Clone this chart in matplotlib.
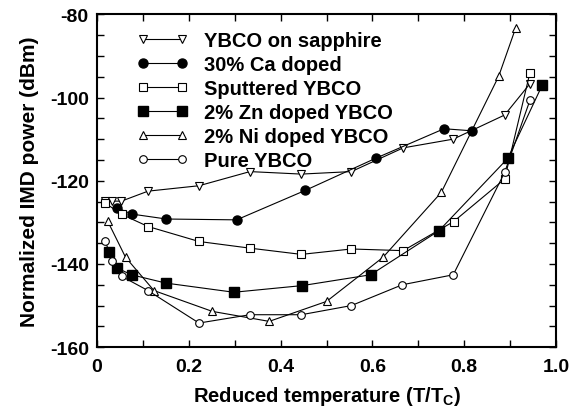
import matplotlib
matplotlib.use("Agg")
from matplotlib import pyplot as plt
from matplotlib.ticker import MultipleLocator

plt.rcParams['font.family'] = ['Liberation Sans', 'DejaVu Sans']
plt.rcParams['font.weight'] = 'bold'
plt.rcParams['axes.unicode_minus'] = False

# YBCO on sapphire
sapphire_x = [0.018, 0.033, 0.053, 0.111, 0.222, 0.333, 0.445, 0.554, 0.667, 0.776, 0.888, 0.943]
sapphire_y = [-124.9, -124.9, -124.9, -122.5, -121.2, -117.8, -118.4, -117.8, -112.1, -110.0, -104.2, -96.7]

# 30% Ca doped
ca_x = [0.044, 0.075, 0.151, 0.304, 0.454, 0.607, 0.756, 0.817]
ca_y = [-126.5, -128.0, -129.2, -129.4, -122.3, -114.6, -107.5, -108.0]

# Sputtered YBCO
sput_x = [0.018, 0.054, 0.111, 0.222, 0.333, 0.445, 0.554, 0.667, 0.777, 0.888, 0.943]
sput_y = [-125.4, -128.1, -131.0, -134.6, -136.2, -137.7, -136.4, -136.8, -129.8, -119.6, -94.1]

# 2% Zn doped YBCO
zn_x = [0.026, 0.044, 0.075, 0.150, 0.298, 0.447, 0.596, 0.745, 0.895, 0.970]
zn_y = [-137.2, -141.0, -142.6, -144.6, -146.8, -145.2, -142.6, -132.0, -114.6, -97.0]

# 2% Ni doped YBCO
ni_x = [0.023, 0.062, 0.124, 0.251, 0.375, 0.500, 0.623, 0.750, 0.875, 0.912]
ni_y = [-129.7, -138.4, -146.4, -151.4, -153.8, -149.0, -138.4, -122.8, -94.9, -83.3]

# Pure YBCO
pure_x = [0.018, 0.033, 0.054, 0.111, 0.222, 0.333, 0.445, 0.554, 0.665, 0.776, 0.888, 0.943]
pure_y = [-134.6, -139.2, -143.0, -146.4, -154.2, -152.2, -152.2, -150.0, -145.0, -142.6, -118.0, -100.7]

xticks = [0, 0.2, 0.4, 0.6, 0.8, 1.0]
xtick_labels = ['0', '0.2', '0.4', '0.6', '0.8', '1.0']

fig = plt.figure(figsize=(5.78, 4.14), dpi=100)
ax = fig.add_axes([0.168, 0.159, 0.794, 0.804])

lw = 0.8
ax.plot(sapphire_x, sapphire_y, 'k-', lw=lw, marker='v', ms=6, mfc='white', mec='k', mew=0.8,
        label='YBCO on sapphire')
ax.plot(ca_x, ca_y, 'k-', lw=lw, marker='o', ms=6.5, mfc='k', mec='k', label='30% Ca doped')
ax.plot(sput_x, sput_y, 'k-', lw=lw, marker='s', ms=5.5, mfc='white', mec='k', mew=0.8,
        label='Sputtered YBCO')
ax.plot(zn_x, zn_y, 'k-', lw=lw, marker='s', ms=6.5, mfc='k', mec='k', label='2% Zn doped YBCO')
ax.plot(ni_x, ni_y, 'k-', lw=lw, marker='^', ms=6, mfc='white', mec='k', mew=0.8,
        label='2% Ni doped YBCO')
ax.plot(pure_x, pure_y, 'k-', lw=lw, marker='o', ms=5.5, mfc='white', mec='k', mew=0.8,
        label='Pure YBCO')

ax.set_xlim(0, 1.0)
ax.set_ylim(-160, -80)
ax.xaxis.set_minor_locator(MultipleLocator(0.1))
ax.yaxis.set_major_locator(MultipleLocator(20))
ax.yaxis.set_minor_locator(MultipleLocator(5))
ax.set_xticks(xticks)
ax.set_xticklabels(xtick_labels)

ax.tick_params(which='both', direction='in', top=True, right=True, labelsize=14, width=1)
ax.tick_params(which='major', length=5)
ax.tick_params(which='minor', length=5)
ax.tick_params(axis='x', which='major', pad=8)
ax.tick_params(axis='y', which='major', pad=6)
for s in ax.spines.values():
    s.set_linewidth(1.5)

ax.set_xlabel('Reduced temperature (T/T$_\\mathregular{C}$)', fontsize=14.5, fontweight='bold',
              labelpad=6)
ax.set_ylabel('Normalized IMD power (dBm)', fontsize=15, fontweight='bold', labelpad=8)

ax.legend(loc='upper left', bbox_to_anchor=(0.07, 0.975), frameon=False, numpoints=2,
          handlelength=2.5, handletextpad=0.8, labelspacing=0.25, borderaxespad=0,
          prop={'size': 14.5, 'weight': 'bold'})

fig.savefig('out.png', dpi=100)
